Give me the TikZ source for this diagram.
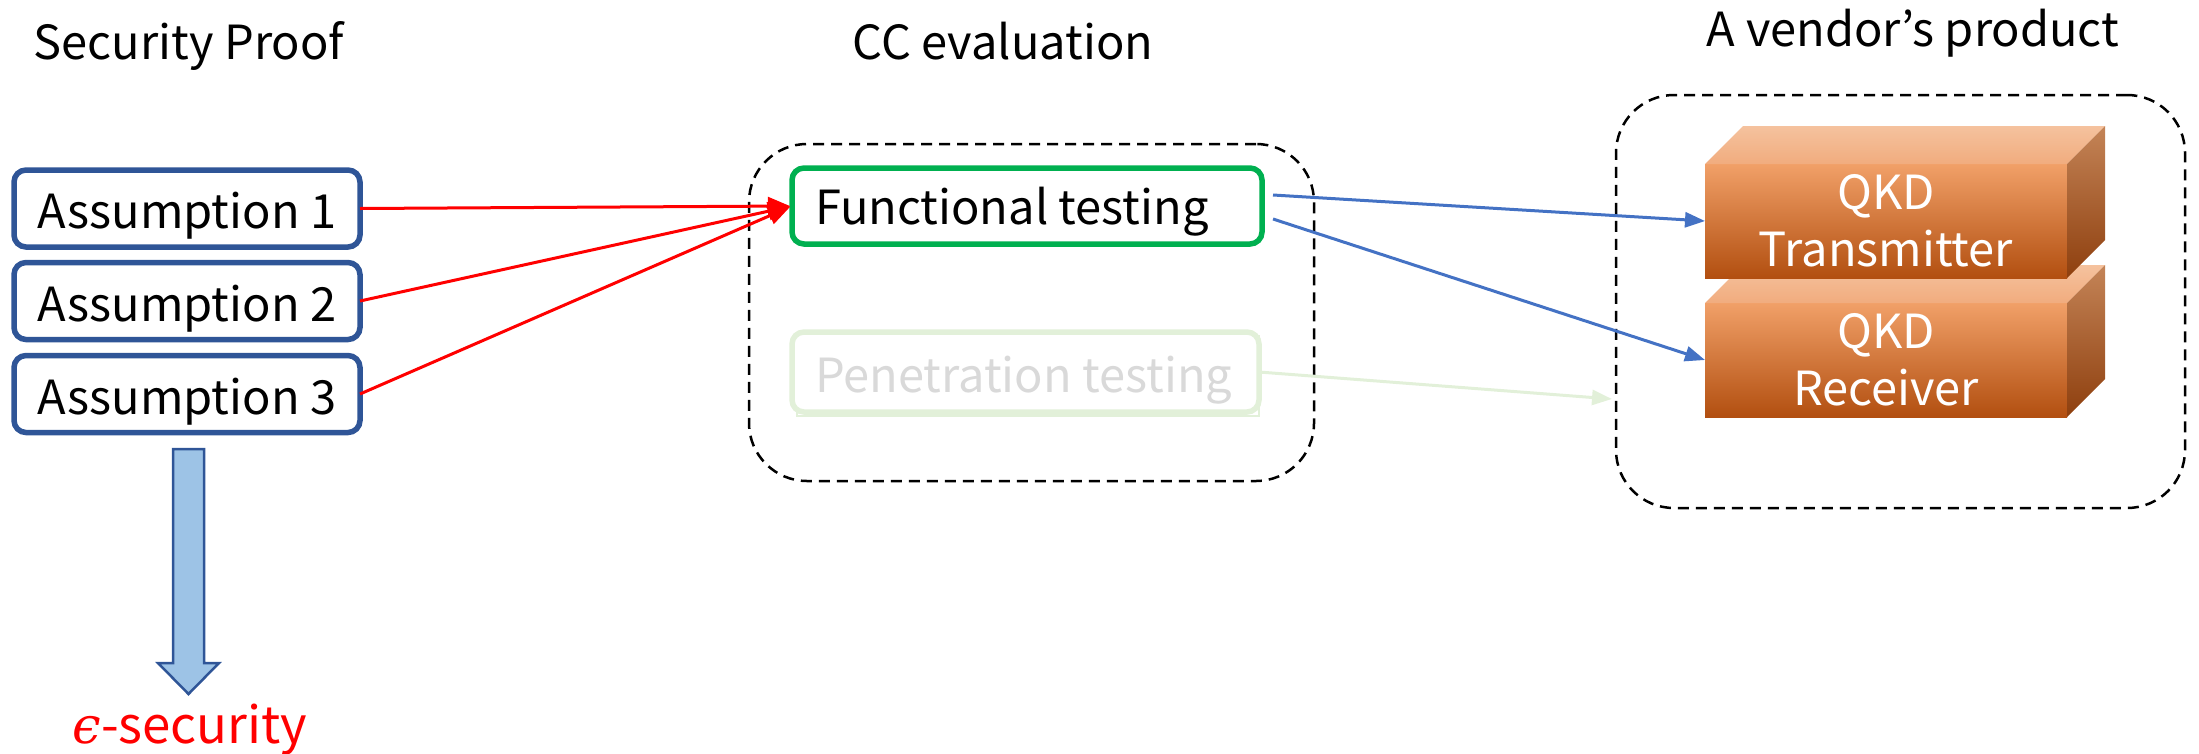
\documentclass[tikz,border=0pt]{standalone}
\usepackage{fontspec}
\setmainfont{Noto Sans CJK JP}
\newfontfamily\epsfont{DejaVu Serif}
\usetikzlibrary{arrows.meta}

\definecolor{asmblue}{HTML}{2F5597}
\definecolor{fgreen}{HTML}{00B050}
\definecolor{pgreen}{HTML}{E2F0D9}
\definecolor{pgray}{HTML}{D9D9D9}
\definecolor{linkblue}{HTML}{4472C4}
\definecolor{arrfill}{HTML}{9DC3E6}
\definecolor{orgtop}{HTML}{F1A068}
\definecolor{orgmid}{HTML}{EC7D34}
\definecolor{orgbot}{HTML}{B24F10}
\definecolor{lidtop}{HTML}{F5C29E}
\definecolor{lidbot}{HTML}{F1AC7E}
\definecolor{sidetop}{HTML}{C48457}
\definecolor{sidebot}{HTML}{8E3F0E}

\begin{document}
\begin{tikzpicture}[x=1pt,y=-1pt,
  every node/.style={inner sep=0pt, outer sep=0pt},
  txt/.style={font=\fontsize{47}{57}\selectfont},
  assume/.style={txt, draw=asmblue, line width=5.5pt, rounded corners=12pt,
    minimum width=346pt, minimum height=77pt, fill=white,
    text height=40pt, text depth=0pt},
  testbox/.style={line width=5.5pt, rounded corners=12pt, fill=white},
  groupbox/.style={draw=black, line width=2.5pt, dash pattern=on 11pt off 7pt,
    rounded corners=58pt},
  qkdfront/.style={txt, text=white, align=center, minimum width=362pt,
    minimum height=114pt, top color=orgtop, middle color=orgmid,
    bottom color=orgbot},
  lid/.style={top color=lidtop, bottom color=lidbot},
  side/.style={top color=sidetop, bottom color=sidebot},
  redarr/.style={draw=red, line width=3pt,
    -{Triangle[length=22pt,width=18pt]}},
  bluearr/.style={draw=linkblue, line width=3pt,
    -{Triangle[length=20pt,width=15pt]}},
  fadedarr/.style={draw=pgreen, line width=3pt,
    -{Triangle[length=20pt,width=15pt]}},
  bigarrow/.style={draw=asmblue, fill=arrfill, line width=2.5pt, line join=miter},
]
\useasboundingbox (0,0) rectangle (2199,753);

% column titles
\node[txt, anchor=base] (tproof)  at (189,59)  {Security Proof};
\node[txt, anchor=base] (tcc)     at (1003,59) {CC evaluation};
\node[txt, anchor=base] (tvendor) at (1913,46) {A vendor’s product};

% dashed groups
\node[groupbox, minimum width=565pt, minimum height=337pt] (cc) at (1031.5,312.5) {};
\node[groupbox, minimum width=569pt, minimum height=413pt] (vendor) at (1900.5,301.5) {};

% assumptions of the proof
\node[assume] (a1) at (187,208.5) {Assumption 1};
\node[assume] (a2) at (187,301)   {Assumption 2};
\node[assume] (a3) at (187,394)   {Assumption 3};

% evaluation activities
\draw[draw=pgreen, line width=2pt] (797,336) rectangle (1259,416);
\node[testbox, draw=fgreen, minimum width=470pt, minimum height=76pt] (fn) at (1027,206) {};
\node[txt, anchor=base west] (fntext) at ([xshift=23pt,yshift=-18pt]fn.west) {Functional testing};
\node[testbox, draw=pgreen, minimum width=467pt, minimum height=80pt] (pen) at (1025.5,372) {};
\node[txt, anchor=base west, text=pgray] (pentext) at ([xshift=23pt,yshift=-20pt]pen.west) {Penetration testing};

% result of the proof
\draw[bigarrow] (173,449) -- (204,449) -- (204,663) -- (219,663) -- (188.5,694)
  -- (158,663) -- (173,663) -- cycle;
\node[font=\fontsize{51}{58}\selectfont, text=red, anchor=base] (eps) at (190,743) {{\epsfont\itshape ϵ}-security};

% QKD receiver (drawn first, the transmitter sits on it)
\node[qkdfront] (rx) at (1886,360) {QKD\\Receiver};
\shade[lid] (rx.north west) -- ++(38,-38) -- ++(362,0) -- (rx.north east) -- cycle;
\shade[side] (rx.north east) -- ++(38,-38) -- ++(0,114) -- (rx.south east) -- cycle;

% QKD transmitter
\node[qkdfront] (tx) at (1886,221) {QKD\\Transmitter};
\shade[lid] (tx.north west) -- ++(38,-38) -- ++(362,0) -- (tx.north east) -- cycle;
\shade[side] (tx.north east) -- ++(38,-38) -- ++(0,114) -- (tx.south east) -- cycle;

% assumptions feed the functional tests
\draw[redarr, shorten >=2pt] (a1.east) -- (fn.west);
\draw[redarr, shorten >=2pt] (a2.east) -- (fn.west);
\draw[redarr, shorten >=2pt] (a3.east) -- (fn.west);

% tests applied to the product
\coordinate (f1) at (1273,195);
\coordinate (f2) at (1273,219);
\coordinate (penend) at (1612,399);
\draw[bluearr] (f1) -- (tx.west);
\draw[bluearr] (f2) -- (rx.west);
\draw[fadedarr] (pen.east) -- (penend);
\end{tikzpicture}
\end{document}
